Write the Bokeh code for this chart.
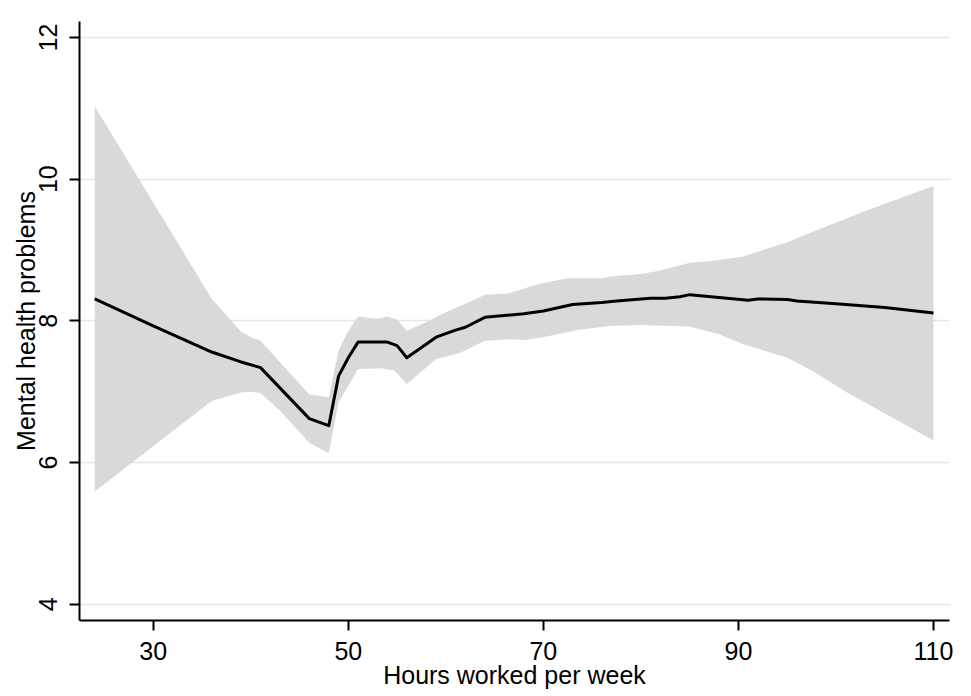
from bokeh.plotting import figure
from bokeh.models import Range1d, FixedTicker
from bokeh.embed import file_html
from bokeh.resources import INLINE

# ---- data ----
hours = [24, 30, 36, 39, 41, 46, 48, 49, 50, 51, 54, 55, 56, 59, 61, 62, 64, 68,
         70, 73, 76, 77.5, 81, 82.5, 84, 85, 88, 91, 92, 95, 96, 100, 105, 110]
mental_health = [8.31, 7.93, 7.56, 7.42, 7.34, 6.62, 6.52, 7.22, 7.48, 7.70, 7.70,
                 7.65, 7.48, 7.77, 7.87, 7.91, 8.05, 8.10, 8.14, 8.23, 8.26, 8.28,
                 8.32, 8.32, 8.34, 8.37, 8.33, 8.29, 8.31, 8.30, 8.28, 8.24, 8.19, 8.11]

ci_upper_hours = [24, 36, 39, 40, 41, 46, 48, 49, 50, 51, 53, 54, 55, 56, 58, 59.5,
                  62, 64, 66.5, 69.5, 72.5, 76, 77, 80, 82, 85, 87, 90.5, 95, 97.5,
                  103, 110]
ci_upper = [11.03, 8.31, 7.85, 7.77, 7.72, 6.96, 6.92, 7.58, 7.86, 8.06, 8.03, 8.06,
            8.02, 7.86, 7.98, 8.09, 8.24, 8.37, 8.39, 8.52, 8.60, 8.60, 8.63, 8.66,
            8.71, 8.82, 8.84, 8.91, 9.11, 9.25, 9.55, 9.905]

ci_lower_hours = [24, 36, 39, 40, 41, 43, 46, 48, 49, 50, 51, 53.3, 54.7, 56, 59,
                  61.5, 64, 66.4, 68, 70, 73.5, 77, 80, 85, 88, 90.5, 95, 97.5, 101,
                  104.5, 110]
ci_lower = [5.59, 6.87, 6.99, 7.00, 6.98, 6.73, 6.28, 6.13, 6.85, 7.08, 7.32, 7.33,
            7.30, 7.11, 7.46, 7.55, 7.72, 7.74, 7.73, 7.77, 7.87, 7.93, 7.94, 7.92,
            7.81, 7.67, 7.48, 7.30, 7.00, 6.73, 6.31]

x_ticks = [30, 50, 70, 90, 110]
y_ticks = [4, 6, 8, 10, 12]
x_title = "Hours worked per week"
y_title = "Mental health problems"

FONT = "Liberation Sans"
FS = "25px"

p = figure(width=962, height=695, output_backend="svg", toolbar_location=None,
           x_range=Range1d(22.44, 111.64), y_range=Range1d(3.77, 12.226),
           min_border_left=79, min_border_right=13, min_border_top=21,
           min_border_bottom=75)
p.outline_line_color = None
p.background_fill_color = "white"
p.border_fill_color = "white"

# confidence band
band_x = ci_upper_hours + ci_lower_hours[::-1]
band_y = ci_upper + ci_lower[::-1]
p.patch(band_x, band_y, fill_color="#d9d9d9", line_color=None)

# fitted line
p.line(hours, mental_health, line_color="black", line_width=3, line_join="round")

# axes
for ax in (p.xaxis[0], p.yaxis[0]):
    ax.axis_line_width = 2
    ax.axis_line_color = "black"
    ax.major_tick_line_width = 2
    ax.major_tick_line_color = "black"
    ax.major_tick_in = 0
    ax.major_tick_out = 10
    ax.minor_tick_line_color = None
    ax.major_label_text_font = FONT
    ax.major_label_text_font_size = FS
    ax.major_label_text_color = "black"
    ax.axis_label_text_font = FONT
    ax.axis_label_text_font_size = FS
    ax.axis_label_text_font_style = "normal"
    ax.axis_label_text_color = "black"

p.xaxis.ticker = FixedTicker(ticks=x_ticks)
p.yaxis.ticker = FixedTicker(ticks=y_ticks)
p.xaxis.axis_label = x_title
p.yaxis.axis_label = y_title
p.xaxis.major_label_standoff = 11
p.xaxis.axis_label_standoff = -2
p.yaxis.major_label_standoff = 12
p.yaxis.axis_label_standoff = -3
p.yaxis.major_label_orientation = "vertical"

p.xgrid.grid_line_color = None
p.ygrid.grid_line_color = "#e6e6e6"
p.ygrid.grid_line_width = 1.3

open("out.html", "w").write(file_html(p, INLINE))
